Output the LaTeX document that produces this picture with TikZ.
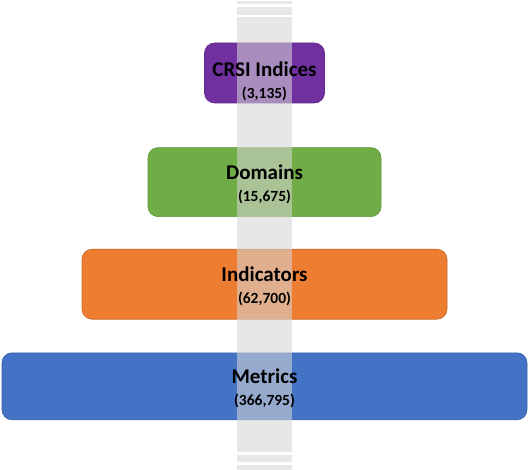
\documentclass[tikz,border=0pt]{standalone}
\usepackage{fontspec}
\setmainfont{Carlito}
\usetikzlibrary{positioning}

\definecolor{crsipurple}{RGB}{112,48,160}
\definecolor{domgreen}{RGB}{112,173,71}
\definecolor{indorange}{RGB}{237,125,49}
\definecolor{metblue}{RGB}{68,114,196}
\definecolor{bandgray}{RGB}{213,213,213}
\newcommand{\countfont}{\bfseries\fontsize{15.5}{20}\selectfont}

\begin{document}
\begin{tikzpicture}[
    x=1pt, y=-1pt,
    level/.style={
        rectangle,
        rounded corners=10pt,
        inner sep=0pt,
        draw=#1!85!black,
        line width=0.6pt,
        fill=#1
    },
    band/.style={
        fill=bandgray,
        fill opacity=0.57,
        draw=none
    },
    levellabel/.style={
        align=center,
        font=\bfseries\fontsize{21}{22}\selectfont,
        text=black
    }
]
\useasboundingbox (0,0) rectangle (529,470);

\node[level=crsipurple, minimum width=120pt, minimum height=60pt] (crsi) at (264.5,73) {};
\node[level=domgreen, minimum width=233pt, minimum height=69pt, below=44pt of crsi] (domains) {};
\node[level=indorange, minimum width=365pt, minimum height=70pt, below=32pt of domains] (indicators) {};
\node[level=metblue, minimum width=525pt, minimum height=67pt, below=33pt of indicators] (metrics) {};

% translucent band
\fill[band] (237,1) rectangle (292,4);
\fill[band] (237,7) rectangle (292,15);
\fill[band] (237,17) rectangle (292,452);
\fill[band] (237,455) rectangle (292,462);
\fill[band] (237,465) rectangle (292,470);

\node[levellabel] (crsi_text) at ([yshift=-8pt]crsi.center) {CRSI Indices\\{\countfont (3,135)}};
\node[levellabel] (domains_text) at ([yshift=-2.5pt]domains.center) {Domains\\{\countfont (15,675)}};
\node[levellabel] (indicators_text) at ([yshift=-2.5pt]indicators.center) {Indicators\\{\countfont (62,700)}};
\node[levellabel] (metrics_text) at ([yshift=-2.5pt]metrics.center) {Metrics\\{\countfont (366,795)}};

\end{tikzpicture}
\end{document}
